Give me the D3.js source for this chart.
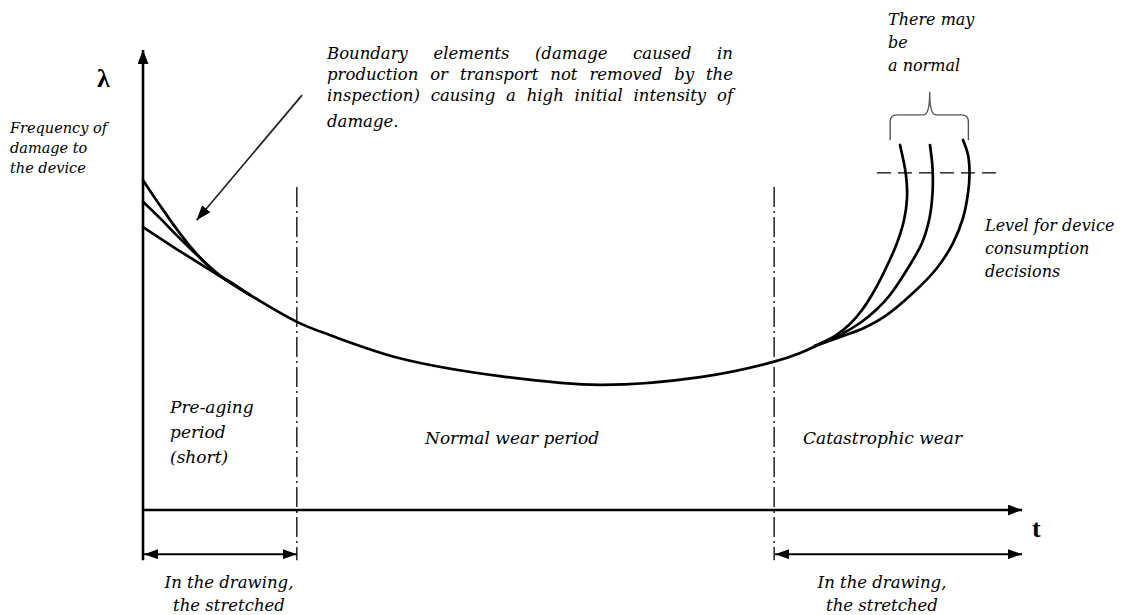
<!DOCTYPE html>
<html><head><meta charset="utf-8">
<script src="https://cdn.jsdelivr.net/npm/d3@7"></script>
<style>
body{margin:0;background:#fff}
svg{display:block}
text{font-family:"DejaVu Serif",serif;font-style:italic;fill:#000}
</style>
</head><body>
<svg id="c" width="1129" height="615"></svg>
<script>
// ---------- data (t = time units, L = damage intensity λ units) ----------
const baseT = [0, 3.6, 7.6, 12.2, 17.5, 21.3, 29.2, 40.6, 52, 63.4, 71.7, 74.7, 77];
const baseL = [61.5, 57.0, 52.2, 46.7, 40.9, 38.0, 33.0, 29.1, 27.2, 28.9, 32.2, 34.1, 36.1];
const earlyHighT = [0, 1.9, 3.9, 5.9, 8.2, 10.5, 12.2];
const earlyHighL = [71.7, 66.3, 60.9, 56.1, 51.7, 48.9, 46.7];
const earlyMidT = [0, 1.9, 3.9, 6.5, 8.8, 12.2];
const earlyMidL = [67.0, 63.5, 59.6, 54.8, 50.9, 46.7];
const wear1T = [76.45, 78.73, 80.43, 81.8, 83.05, 84.53, 85.78, 86.58, 86.92, 86.8, 86.12];
const wear1L = [35.65, 37.83, 40.43, 43.48, 47.17, 52.61, 58.04, 63.04, 67.83, 72.83, 79.35];
const wear2T = [76.45, 79.29, 81.57, 83.39, 84.98, 87.03, 88.62, 89.48, 89.82, 89.82, 89.53];
const wear2L = [35.65, 38.04, 40.65, 43.48, 46.74, 52.61, 58.04, 63.48, 68.91, 74.35, 79.35];
const wear3T = [76.45, 79.64, 82.02, 84.3, 87.6, 90.33, 92.15, 93.29, 93.86, 94.03, 93.86, 93.29];
const wear3L = [35.65, 37.83, 39.57, 41.96, 47.17, 52.61, 58.04, 63.48, 68.91, 73.26, 77.17, 80.43];
const periodBounds = [17.5, 71.8];       // t of the dash-dot boundaries
const decisionLevel = 73.3;              // λ of the decision level
const decisionSpan = [83.5, 97.5];
const braceSpan = [85.0, 89.5, 93.9];    // left, centre, right (t)
const braceLevels = [80.4, 85.9, 90.9];  // ends, bar, tip (λ)
const calloutFrom = [18.1, 90.2];
const calloutTo = [6.1, 63.0];

const yLabel = "λ";
const xLabel = "t";
const yTitle = ["Frequency of", "damage to", "the device"];
const callout = ["Boundary elements (damage caused in",
  "production or transport not removed by the",
  "inspection) causing a high initial intensity of",
  "damage."];
const maybeNormal = ["There may", "be", "a normal"];
const levelNote = ["Level for device", "consumption", "decisions"];
const periodNames = [["Pre-aging", "period", "(short)"], ["Normal wear period"], ["Catastrophic wear"]];
const stretchNote = ["In the drawing,", "the stretched"];

// ---------- scales ----------
const svg = d3.select("#c");
const x = d3.scaleLinear().domain([0, 100]).range([143, 1022]);
const y = d3.scaleLinear().domain([0, 100]).range([510, 50]);
const zip = (a, b) => a.map((v, i) => [v, b[i]]);

const defs = svg.append("defs");
function marker(id, w, h, orientAuto) {
  defs.append("marker").attr("id", id)
    .attr("markerUnits", "userSpaceOnUse")
    .attr("viewBox", `0 0 ${w} ${h}`)
    .attr("refX", w).attr("refY", h / 2)
    .attr("markerWidth", w).attr("markerHeight", h)
    .attr("orient", orientAuto)
    .append("path").attr("d", `M0,0L${w},${h / 2}L0,${h}Z`).attr("fill", "#000");
}
marker("ax", 14, 11, "auto");
marker("dbl", 14, 10, "auto-start-reverse");
marker("co", 15, 11, "auto");

// axes
svg.append("line").attr("x1", x(0)).attr("y1", y(-10.9)).attr("x2", x(0)).attr("y2", y(100))
  .attr("stroke", "#000").attr("stroke-width", 2.6).attr("marker-end", "url(#ax)");
svg.append("line").attr("x1", x(0)).attr("y1", y(0)).attr("x2", x(100)).attr("y2", y(0))
  .attr("stroke", "#000").attr("stroke-width", 2.6).attr("marker-end", "url(#ax)");

// dash-dot period boundaries
periodBounds.forEach(t => {
  svg.append("line").attr("x1", x(t)).attr("x2", x(t)).attr("y1", y(70.2)).attr("y2", y(-10.9))
    .attr("stroke", "#000").attr("stroke-width", 1.3).attr("stroke-dasharray", "20,4,2,4");
});

// double arrows below axis
[[0, periodBounds[0]], [periodBounds[1], 100]].forEach(([a, b]) => {
  svg.append("line").attr("x1", x(a) + 1).attr("x2", x(b)).attr("y1", y(-9.6)).attr("y2", y(-9.6))
    .attr("stroke", "#000").attr("stroke-width", 2)
    .attr("marker-start", "url(#dbl)").attr("marker-end", "url(#dbl)");
});

// curves
const line = d3.line().x(d => x(d[0])).y(d => y(d[1])).curve(d3.curveCatmullRom.alpha(0.5));
[zip(baseT, baseL), zip(earlyHighT, earlyHighL), zip(earlyMidT, earlyMidL),
 zip(wear1T, wear1L), zip(wear2T, wear2L), zip(wear3T, wear3L)].forEach(pts => {
  svg.append("path").attr("d", line(pts)).attr("fill", "none")
    .attr("stroke", "#000").attr("stroke-width", 2.7).attr("stroke-linecap", "round");
});

// decision level
svg.append("line").attr("x1", x(decisionSpan[0])).attr("x2", x(decisionSpan[1]))
  .attr("y1", y(decisionLevel)).attr("y2", y(decisionLevel))
  .attr("stroke", "#000").attr("stroke-width", 1.3).attr("stroke-dasharray", "14,7");

// brace
{
  const [xl, xc, xr] = braceSpan.map(x);
  const [ye, yb, yt] = braceLevels.map(y);
  const r = 7;
  const d = `M${xl},${ye}L${xl},${yb + r}Q${xl},${yb} ${xl + r},${yb}L${xc - 6},${yb}Q${xc},${yb} ${xc},${yt}` +
    `Q${xc},${yb} ${xc + 6},${yb}L${xr - r},${yb}Q${xr},${yb} ${xr},${yb + r}L${xr},${ye}`;
  svg.append("path").attr("d", d).attr("fill", "none").attr("stroke", "#555").attr("stroke-width", 1.4);
}

// callout arrow
svg.append("line").attr("x1", x(calloutFrom[0])).attr("y1", y(calloutFrom[1]))
  .attr("x2", x(calloutTo[0])).attr("y2", y(calloutTo[1]))
  .attr("stroke", "#222").attr("stroke-width", 1.7).attr("marker-end", "url(#co)");

// ---------- texts ----------
svg.append("text").attr("x", 97).attr("y", 87).text(yLabel)
  .style("font-family", "'Liberation Serif',serif").style("font-style", "normal")
  .style("font-weight", "bold").style("font-size", "26px");
svg.append("text").attr("x", 1032).attr("y", 537).text(xLabel)
  .style("font-family", "'Liberation Serif',serif").style("font-style", "normal")
  .style("font-weight", "bold").style("font-size", "26px");

function block(lines, x0, y0, dy, size, anchor) {
  lines.forEach((s, i) => svg.append("text").attr("x", x0).attr("y", y0 + i * dy)
    .attr("text-anchor", anchor || "start").style("font-size", size + "px").text(s));
}
block(yTitle, 10, 133, 20, 14.5);
block(maybeNormal, 888, 25, 23, 16);
block(levelNote, 985, 231, 23, 16);
block(periodNames[0], 170, 413, 25, 17);
block(periodNames[1], 425, 444, 25, 17);
block(periodNames[2], 803, 444, 25, 17);
block(stretchNote, 229, 588, 23, 16.5, "middle");
block(stretchNote, 882, 588, 23, 16.5, "middle");

// justified callout paragraph
const cx0 = 327, cw = 406, cys = [59, 80, 101, 127];
callout.forEach((s, i) => {
  if (i === callout.length - 1) {
    svg.append("text").attr("x", cx0).attr("y", cys[i]).style("font-size", "16.5px").text(s);
    return;
  }
  const words = s.split(" ");
  const els = words.map(w => svg.append("text").attr("y", cys[i]).style("font-size", "16.5px").text(w));
  const ws = els.map(e => e.node().getComputedTextLength());
  const gap = (cw - d3.sum(ws)) / (words.length - 1);
  let cx = cx0;
  els.forEach((e, k) => { e.attr("x", cx); cx += ws[k] + gap; });
});
</script>
</body></html>
